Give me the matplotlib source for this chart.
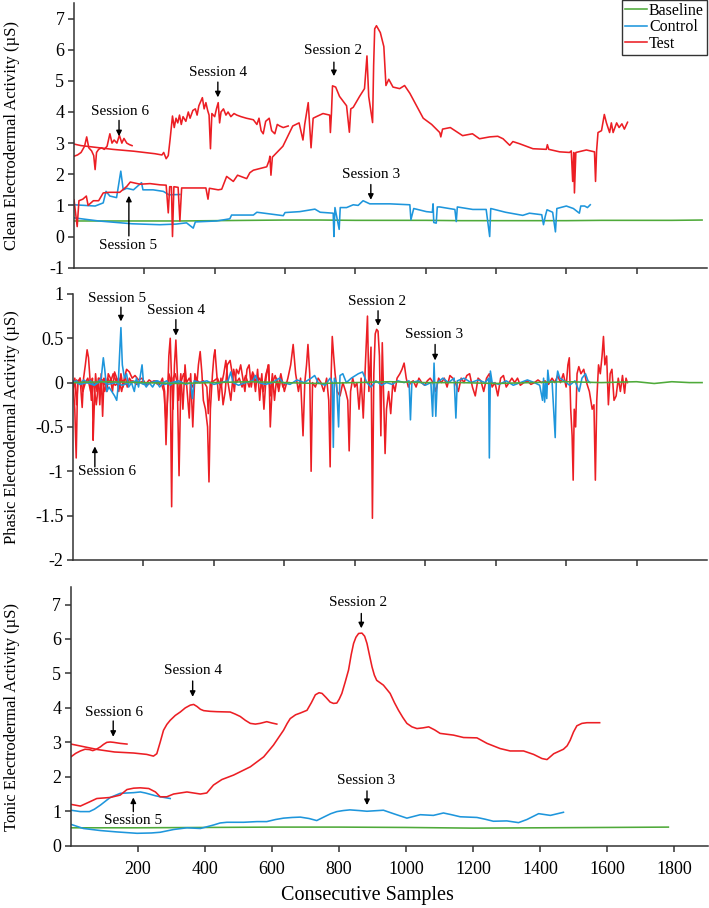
import numpy as np
import matplotlib.pyplot as plt

plt.rcParams['font.family'] = ['Liberation Serif', 'DejaVu Serif']
plt.rcParams['axes.unicode_minus'] = False

GREEN = '#4FAA3A'
BLUE = '#1E96DC'
RED = '#EC1E24'

# ---------------- clean EDA ----------------
base_clean_x = [0, 100, 200, 300, 400, 500, 600, 700, 800, 900, 1000, 1100, 1200, 1300, 1400, 1500, 1600, 1700, 1786]
base_clean_y = [0.5, 0.5, 0.5, 0.5, 0.51, 0.52, 0.53, 0.53, 0.52, 0.52, 0.52, 0.51, 0.51, 0.51, 0.51, 0.52, 0.52, 0.52, 0.53]

ctrl5_clean_x = [0, 30, 60, 83, 91, 102, 121, 133, 140, 150, 169, 192, 196, 225, 254, 270, 301]
ctrl5_clean_y = [1.02, 1.0, 0.98, 1.08, 1.45, 1.3, 1.25, 2.1, 1.5, 1.55, 1.5, 1.73, 1.5, 1.5, 1.45, 1.34, 1.35]

ctrl3_clean_x = [0, 70, 165, 244, 290, 320, 339, 345, 406, 443, 448, 510, 520, 595, 600, 642, 685, 700, 737, 739, 742,
                 754, 757, 775, 794, 808, 822, 841, 898, 955, 958, 966, 1002, 1019, 1021, 1023, 1030, 1033, 1040, 1083,
                 1087, 1090, 1134, 1172, 1182, 1185, 1227, 1276, 1295, 1330, 1335, 1340, 1345, 1361, 1369, 1373, 1400,
                 1420, 1437, 1441, 1452, 1460, 1468]
ctrl3_clean_y = [0.6, 0.5, 0.41, 0.38, 0.4, 0.44, 0.27, 0.47, 0.5, 0.57, 0.69, 0.69, 0.78, 0.67, 0.77, 0.8, 0.88, 0.78, 0.75,
                 0.0, 0.93, 0.23, 0.93, 0.93, 1.02, 1.0, 1.15, 1.05, 1.05, 1.02, 0.54, 0.9, 0.8, 0.78, 1.05, 0.45, 0.43,
                 0.95, 0.95, 0.87, 0.48, 0.95, 0.87, 0.87, 0.0, 0.9, 0.78, 0.68, 0.75, 0.7, 0.38, 0.65, 0.86, 0.78, 0.15,
                 0.9, 0.98, 0.9, 0.75, 0.98, 0.98, 0.93, 1.02]

test6_clean_x = [0, 10, 20, 30, 36, 42, 50, 56, 60, 64, 70, 78, 86, 94, 102, 108, 114, 122, 129, 136, 142, 150, 158, 165]
test6_clean_y = [2.58, 2.62, 2.7, 2.9, 3.2, 2.85, 2.75, 2.6, 2.15, 2.7, 2.8, 2.85, 2.8, 2.9, 3.3, 3.0, 3.1, 3.0, 3.25, 3.0,
                 3.15, 3.0, 2.95, 2.92]

test4_clean_x = [0, 20, 50, 80, 110, 140, 170, 200, 230, 250, 255, 262, 268, 273, 280, 285, 290, 295, 300, 305, 310, 318,
                 325, 330, 338, 345, 350, 355, 365, 370, 375, 380, 384, 388, 392, 400, 405, 410, 414, 418, 425, 432,
                 438, 446, 455, 463, 475, 490, 510, 520, 526, 532, 538, 545, 555, 562, 571, 578, 585, 595, 609]
test4_clean_y = [2.97, 2.92, 2.88, 2.84, 2.8, 2.77, 2.74, 2.7, 2.66, 2.62, 2.7, 2.5, 2.6, 3.1, 3.87, 3.5, 3.8, 3.65, 3.9,
                 3.6, 3.85, 3.7, 4.0, 3.8, 4.05, 4.1, 3.9, 4.2, 4.46, 4.1, 4.3, 4.05, 3.9, 2.82, 3.95, 3.85, 4.1, 4.3,
                 3.65, 4.0, 4.1, 3.9, 4.0, 3.85, 3.95, 3.9, 3.85, 3.8, 3.75, 3.6, 3.8, 3.4, 3.3, 3.7, 3.8, 3.4, 3.3,
                 3.6, 3.55, 3.5, 3.55]

test2_clean_x = [0, 9, 14, 25, 35, 40, 55, 70, 83, 100, 130, 150, 160, 188, 216, 245, 262, 268, 272, 277, 280, 284, 296,
                 301, 306, 340, 375, 381, 385, 410, 420, 434, 453, 465, 491, 500, 510, 548, 555, 557, 560, 564, 594,
                 622, 640, 651, 656, 666, 674, 680, 689, 708, 727, 729, 732, 735, 744, 755, 775, 783, 787, 794, 812,
                 826, 833, 838, 849, 852, 855, 860, 871, 881, 887, 895, 907, 926, 940, 955, 974, 993, 1017, 1040, 1043,
                 1048, 1070, 1105, 1133, 1153, 1182, 1205, 1220, 1239, 1248, 1267, 1305, 1343, 1346, 1350, 1381, 1409,
                 1414, 1418, 1421, 1423, 1427, 1457, 1480, 1483, 1486, 1490, 1500, 1508, 1514, 1523, 1528, 1533, 1543,
                 1550, 1558, 1565, 1574]
test2_clean_y = [1.18, 0.32, 1.15, 1.2, 1.3, 1.0, 1.15, 1.15, 1.4, 1.42, 1.42, 1.61, 1.75, 1.68, 1.7, 1.66, 1.65, 0.76, 1.6,
                 1.6, 0.0, 1.6, 1.58, 0.5, 1.56, 1.56, 1.56, 1.2, 1.55, 1.5, 1.52, 1.93, 1.77, 1.97, 1.86, 2.05, 2.13,
                 2.24, 2.45, 2.58, 1.97, 2.55, 2.9, 3.55, 3.65, 3.1, 3.6, 4.3, 2.85, 3.8, 3.85, 3.95, 3.9, 3.34, 3.95,
                 4.84, 4.8, 4.5, 4.2, 3.35, 4.1, 4.15, 4.5, 4.75, 5.8, 4.5, 3.66, 5.5, 6.67, 6.77, 6.55, 6.1, 4.85, 5.05,
                 4.8, 4.75, 4.85, 4.6, 4.2, 3.8, 3.6, 3.34, 3.2, 3.45, 3.5, 3.24, 3.3, 3.14, 3.2, 3.22, 3.14, 2.93,
                 3.05, 2.98, 2.82, 2.8, 2.95, 2.8, 2.72, 2.7, 2.75, 1.77, 2.7, 1.4, 2.7, 2.78, 2.72, 1.77, 2.75, 3.34,
                 3.4, 3.92, 3.65, 3.34, 3.65, 3.34, 3.65, 3.5, 3.62, 3.45, 3.67]

# ---------------- phasic EDA ----------------
base_phasic_x = [0, 100, 200, 300, 400, 500, 600, 700, 800, 900, 1000, 1100, 1200, 1300, 1400, 1500, 1600, 1650, 1700, 1750, 1786]
base_phasic_y = [0.0, 0.01, 0.0, -0.01, 0.0, 0.01, 0.0, -0.01, 0.0, 0.01, 0.0, 0.0, -0.01, 0.0, 0.01, 0.0, 0.01, -0.01, 0.01, 0.0, 0.0]

ctrl5_phasic_x = [0, 10, 20, 30, 40, 50, 60, 70, 80, 86, 90, 96, 102, 110, 118, 124, 128, 132, 136, 140, 146, 152, 158,
                  166, 174, 180, 186, 192, 196, 200, 208, 216, 226, 236, 246, 256, 266, 276, 286, 300]
ctrl5_phasic_y = [0.0, 0.02, -0.02, 0.03, 0.0, 0.02, -0.03, 0.0, 0.05, 0.28, 0.15, -0.1, -0.05, -0.1, -0.15, -0.2, -0.05,
                  0.3, 0.62, 0.2, 0.05, 0.1, -0.05, 0.0, -0.1, 0.05, -0.05, 0.1, 0.2, 0.0, -0.05, 0.0, -0.05, 0.02,
                  -0.05, 0.0, 0.02, -0.03, 0.0, 0.0]

ctrl3_phasic_x = [0, 20, 40, 60, 80, 100, 120, 140, 160, 180, 200, 220, 240, 260, 280, 300, 320, 334, 339, 344, 360, 380,
                  400, 420, 440, 448, 454, 470, 490, 510, 518, 526, 546, 566, 586, 596, 616, 636, 656, 676, 686, 696,
                  716, 730, 736, 739, 742, 748, 754, 758, 766, 776, 790, 810, 822, 834, 846, 860, 876, 890, 906, 922,
                  940, 954, 958, 962, 980, 1000, 1016, 1021, 1025, 1030, 1034, 1050, 1066, 1082, 1087, 1091, 1110,
                  1130, 1150, 1170, 1180, 1182, 1185, 1190, 1210, 1230, 1250, 1270, 1290, 1310, 1325, 1333, 1336,
                  1339, 1342, 1345, 1348, 1352, 1360, 1369, 1372, 1376, 1382, 1394, 1410, 1425, 1437, 1445, 1455,
                  1462, 1468]
ctrl3_phasic_y = [0.02, -0.02, 0.0, -0.03, 0.02, -0.02, 0.0, -0.03, 0.0, 0.02, -0.02, 0.0, 0.02, -0.02, 0.0, 0.02, -0.02,
                  0.0, -0.18, 0.02, 0.0, 0.02, -0.02, 0.0, 0.02, 0.12, 0.0, -0.03, 0.0, 0.02, 0.08, 0.0, -0.02, 0.0,
                  0.05, 0.0, -0.02, 0.03, 0.0, 0.05, 0.08, 0.0, -0.03, 0.05, 0.0, -0.73, 0.05, 0.0, -0.5, 0.08, 0.1,
                  0.0, 0.05, 0.1, 0.12, 0.0, -0.05, 0.02, -0.03, 0.0, -0.02, 0.02, 0.0, 0.02, -0.42, 0.0, 0.02, -0.03,
                  0.0, -0.38, 0.22, -0.38, 0.0, 0.05, 0.0, 0.05, -0.4, 0.02, 0.05, 0.0, 0.03, 0.0, 0.05, -0.85, 0.13,
                  0.0, -0.02, 0.02, -0.03, 0.0, 0.03, 0.0, -0.03, -0.2, 0.05, -0.22, 0.0, -0.18, 0.14, 0.0, 0.02,
                  -0.62, 0.0, 0.13, 0.05, 0.02, -0.03, 0.02, -0.1, 0.05, 0.1, 0.02, 0.0]

test6_phasic_x = [0, 5, 10, 14, 20, 26, 30, 35, 40, 44, 48, 52, 55, 57, 60, 64, 68, 72, 76, 80, 84, 88, 92, 96, 100, 106,
                  112, 118, 124, 130, 136, 142, 148, 154, 160, 168]
test6_phasic_y = [-0.1, 0.05, -0.25, 0.0, 0.05, -0.28, 0.05, 0.2, 0.37, 0.28, 0.05, -0.2, 0.05, -0.65, -0.3, 0.1, -0.1,
                  0.05, -0.25, 0.1, -0.38, 0.05, 0.0, -0.1, 0.1, 0.05, -0.1, 0.12, 0.05, -0.1, 0.1, -0.05, 0.08, -0.05,
                  0.05, 0.0]

test4_phasic_x = [0, 10, 20, 30, 40, 50, 60, 70, 80, 90, 100, 110, 120, 130, 140, 150, 160, 170, 180, 190, 200, 210, 220,
                  230, 240, 250, 258, 264, 268, 272, 276, 280, 284, 288, 292, 296, 300, 306, 312, 318, 324, 330, 334,
                  340, 346, 352, 356, 361, 366, 370, 376, 382, 386, 390, 396, 400, 403, 408, 414, 420, 426, 432, 438,
                  446, 452, 458, 464, 470, 476, 482, 488, 494, 500, 506, 512, 518, 524, 530, 536, 542, 548, 554, 560,
                  566, 572, 578, 584, 590, 596, 604, 613]
test4_phasic_y = [0.0, 0.03, -0.02, 0.02, 0.0, 0.03, -0.02, 0.0, 0.02, -0.02, 0.0, 0.02, -0.03, 0.0, 0.02, -0.02, 0.0,
                  0.02, -0.02, 0.0, 0.02, -0.03, 0.0, 0.02, -0.02, 0.0, -0.1, -0.45, -0.2, 0.3, 0.5, 0.0, -0.3, 0.2,
                  0.48, 0.1, -0.2, 0.1, -0.3, 0.2, -0.1, -0.4, 0.1, -0.5, 0.1, 0.0, 0.2, 0.35, 0.1, -0.2, -0.3, -0.5,
                  -1.12, -0.3, 0.1, 0.3, 0.37, 0.1, -0.2, 0.05, -0.25, -0.1, 0.2, 0.25, 0.1, -0.1, 0.15, 0.1, 0.2, 0.05,
                  -0.1, 0.15, 0.2, -0.05, 0.1, -0.1, 0.15, -0.2, 0.1, -0.3, 0.05, 0.2, -0.15, 0.1, -0.2, 0.05, -0.1,
                  0.05, -0.05, 0.0, 0.0]

test2_phasic_x = [0, 5, 9, 13, 20, 28, 35, 42, 50, 58, 66, 74, 83, 90, 98, 106, 114, 122, 130, 138, 146, 152, 160, 168,
                  176, 186, 196, 206, 216, 226, 236, 246, 254, 260, 264, 268, 272, 276, 280, 284, 290, 296, 301, 306,
                  314, 322, 330, 340, 350, 360, 370, 380, 384, 390, 400, 410, 420, 428, 434, 440, 448, 456, 464, 472,
                  480, 490, 500, 510, 520, 530, 540, 548, 556, 560, 566, 574, 582, 590, 600, 610, 618, 625, 632, 640,
                  646, 653, 658, 663, 667, 672, 676, 680, 688, 696, 704, 712, 720, 726, 730, 733, 736, 740, 744, 750,
                  758, 766, 774, 780, 784, 788, 794, 800, 806, 812, 818, 824, 830, 836, 840, 846, 850, 854, 858, 862,
                  866, 870, 874, 878, 882, 886, 890, 896, 902, 908, 914, 920, 928, 934, 940, 946, 952, 958, 966, 974,
                  982, 990, 998, 1006, 1014, 1022, 1030, 1038, 1046, 1054, 1062, 1070, 1078, 1086, 1094, 1102, 1110,
                  1118, 1126, 1134, 1142, 1150, 1158, 1166, 1174, 1182, 1190, 1198, 1206, 1214, 1222, 1230, 1238,
                  1246, 1254, 1262, 1270, 1280, 1290, 1300, 1310, 1320, 1330, 1340, 1350, 1360, 1368, 1376, 1384,
                  1392, 1400, 1405, 1409, 1413, 1417, 1420, 1423, 1427, 1431, 1436, 1442, 1450, 1458, 1466, 1474,
                  1479, 1483, 1487, 1492, 1497, 1502, 1506, 1510, 1515, 1520, 1525, 1530, 1536, 1542, 1548, 1554,
                  1560, 1566, 1570, 1574]
test2_phasic_y = [0.0, -0.3, -0.85, 0.0, 0.05, -0.1, 0.0, 0.05, -0.1, 0.0, -0.25, 0.05, 0.03, -0.1, 0.05, 0.0, 0.1, 0.02,
                  0.05, -0.1, 0.05, 0.15, 0.12, 0.05, 0.08, 0.03, 0.05, -0.02, 0.03, 0.0, 0.02, -0.02, 0.05, -0.1,
                  -0.7, -0.2, 0.1, 0.05, -1.4, 0.05, 0.1, 0.0, -1.05, 0.0, 0.1, 0.0, 0.05, -0.05, 0.03, 0.0, 0.02,
                  -0.05, -0.35, 0.0, 0.02, 0.05, -0.05, 0.1, 0.25, 0.0, -0.2, 0.15, 0.0, 0.05, -0.05, 0.08, -0.05,
                  0.12, 0.0, 0.05, -0.1, 0.1, 0.2, -0.5, 0.0, 0.08, -0.05, 0.1, -0.1, 0.05, 0.2, 0.43, 0.1, -0.1,
                  0.05, -0.6, 0.0, 0.2, 0.43, 0.1, -1.0, 0.0, -0.05, 0.05, 0.0, -0.1, 0.05, -0.2, -0.95, 0.1, 0.52,
                  0.3, 0.1, -0.1, -0.15, 0.0, -0.1, -0.2, -0.77, -0.1, 0.05, -0.05, 0.0, -0.3, 0.05, -0.4, 0.2, 0.75,
                  -0.1, 0.4, -1.53, 0.1, 0.55, 0.6, 0.58, 0.3, -0.6, 0.45, -0.2, -0.8, -0.3, -0.1, -0.35, 0.0, -0.1,
                  0.05, 0.1, 0.15, 0.22, 0.05, -0.05, 0.0, 0.02, -0.05, 0.05, 0.0, -0.03, 0.02, 0.05, 0.0, -0.1, 0.05,
                  0.0, 0.05, -0.05, 0.08, 0.05, 0.0, -0.1, 0.05, 0.0, 0.08, 0.1, -0.05, -0.15, 0.05, 0.02, -0.1, 0.05,
                  0.1, -0.05, 0.0, -0.15, 0.05, 0.08, -0.05, 0.0, 0.05, 0.0, 0.05, -0.03, 0.0, 0.02, -0.02, 0.0, 0.03,
                  0.0, 0.02, -0.02, 0.05, 0.0, 0.08, 0.0, 0.1, -0.05, 0.2, 0.28, -0.3, -0.6, -1.1, -0.3, -0.5, 0.1,
                  0.18, 0.1, 0.15, 0.0, -0.1, -0.3, -0.25, -1.1, -0.2, 0.2, 0.1, 0.3, 0.52, 0.2, 0.3, -0.25, 0.1, 0.15,
                  -0.2, -0.15, 0.05, -0.1, 0.08, -0.12, 0.05, 0.0]

# ---------------- tonic EDA ----------------
base_tonic_x = [0, 200, 400, 600, 800, 1000, 1200, 1400, 1600, 1782]
base_tonic_y = [0.52, 0.52, 0.53, 0.54, 0.54, 0.53, 0.51, 0.52, 0.53, 0.54]

ctrl5_tonic_x = [0, 28, 55, 70, 88, 117, 147, 167, 187, 207, 222, 237, 252, 266, 296]
ctrl5_tonic_y = [1.03, 0.99, 0.99, 1.06, 1.18, 1.4, 1.52, 1.53, 1.54, 1.56, 1.53, 1.49, 1.45, 1.42, 1.37]

ctrl3_tonic_x = [0, 37, 88, 137, 197, 240, 266, 286, 306, 346, 386, 425, 445, 465, 515, 555, 584, 610, 634, 660, 684,
                 710, 733, 758, 775, 793, 812, 832, 860, 883, 932, 962, 1002, 1022, 1042, 1081, 1111, 1135, 1161, 1211,
                 1235, 1260, 1300, 1335, 1360, 1395, 1430, 1469]
ctrl3_tonic_y = [0.62, 0.5, 0.44, 0.4, 0.36, 0.37, 0.39, 0.43, 0.47, 0.52, 0.5, 0.6, 0.66, 0.68, 0.68, 0.7, 0.7, 0.76,
                 0.8, 0.82, 0.83, 0.79, 0.73, 0.85, 0.93, 0.99, 1.02, 1.04, 1.02, 1.0, 1.03, 0.93, 0.8, 0.85, 0.9,
                 0.88, 0.95, 0.9, 0.84, 0.82, 0.77, 0.71, 0.72, 0.67, 0.76, 0.93, 0.88, 0.97]

test6_tonic_x = [0, 14, 28, 42, 55, 65, 76, 88, 97, 107, 117, 127, 147, 167]
test6_tonic_y = [2.58, 2.68, 2.75, 2.8, 2.79, 2.76, 2.8, 2.87, 2.94, 3.0, 3.01, 3.0, 2.97, 2.95]

test4_tonic_x = [0, 40, 80, 130, 187, 226, 246, 256, 266, 276, 286, 296, 311, 326, 341, 356, 366, 376, 386, 396, 415,
                 435, 475, 490, 505, 520, 535, 550, 564, 584, 600, 614]
test4_tonic_y = [2.95, 2.87, 2.79, 2.72, 2.69, 2.65, 2.6, 2.67, 3.0, 3.35, 3.52, 3.64, 3.78, 3.88, 4.0, 4.08, 4.1, 4.04,
                 3.96, 3.92, 3.9, 3.89, 3.88, 3.82, 3.75, 3.64, 3.55, 3.53, 3.55, 3.6, 3.56, 3.53]

test2_tonic_x = [0, 28, 55, 77, 117, 147, 167, 187, 207, 232, 252, 266, 286, 306, 346, 386, 405, 425, 450, 485, 535, 575,
                 604, 620, 634, 645, 654, 670, 684, 704, 717, 729, 740, 749, 761, 773, 783, 793, 800, 808, 818, 828,
                 836, 843, 850, 858, 868, 876, 883, 890, 898, 905, 912, 932, 952, 965, 977, 990, 1002, 1017, 1032,
                 1050, 1067, 1085, 1101, 1141, 1171, 1211, 1241, 1280, 1310, 1350, 1380, 1405, 1420, 1440, 1469,
                 1480, 1489, 1499, 1509, 1524, 1539, 1577]
test2_tonic_y = [1.2, 1.15, 1.27, 1.37, 1.4, 1.47, 1.63, 1.67, 1.68, 1.66, 1.56, 1.42, 1.42, 1.5, 1.56, 1.5, 1.53, 1.76,
                 1.92, 2.05, 2.29, 2.58, 2.92, 3.15, 3.35, 3.55, 3.69, 3.8, 3.85, 3.93, 4.15, 4.38, 4.44, 4.42, 4.3,
                 4.17, 4.13, 4.14, 4.25, 4.42, 4.75, 5.1, 5.55, 5.87, 6.05, 6.16, 6.17, 6.08, 5.87, 5.55, 5.19, 4.95,
                 4.8, 4.66, 4.42, 4.15, 3.93, 3.72, 3.55, 3.45, 3.4, 3.42, 3.45, 3.36, 3.26, 3.21, 3.14, 3.13, 2.97,
                 2.82, 2.75, 2.75, 2.65, 2.53, 2.5, 2.67, 2.8, 2.9, 3.06, 3.3, 3.48, 3.55, 3.57, 3.57]

# ---------------- figure ----------------
fig = plt.figure(figsize=(7.09, 9.08), dpi=100)
ax1 = fig.add_axes([0.1044, 0.7052, 0.8928, 0.2915])
ax2 = fig.add_axes([0.1030, 0.3833, 0.8942, 0.2930])
ax3 = fig.add_axes([0.1001, 0.0686, 0.8984, 0.2846])

lw = 1.15
# clean
l_base, = ax1.plot(base_clean_x, base_clean_y, color=GREEN, lw=lw, label='Baseline')
l_ctrl, = ax1.plot(ctrl3_clean_x, ctrl3_clean_y, color=BLUE, lw=lw, label='Control')
ax1.plot(ctrl5_clean_x, ctrl5_clean_y, color=BLUE, lw=lw)
l_test, = ax1.plot(test2_clean_x, test2_clean_y, color=RED, lw=lw, label='Test')
ax1.plot(test4_clean_x, test4_clean_y, color=RED, lw=lw)
ax1.plot(test6_clean_x, test6_clean_y, color=RED, lw=lw)

# phasic
ax2.plot(test2_phasic_x, test2_phasic_y, color=RED, lw=lw)
ax2.plot(test4_phasic_x, test4_phasic_y, color=RED, lw=lw)
ax2.plot(test6_phasic_x, test6_phasic_y, color=RED, lw=lw)
ax2.plot(ctrl3_phasic_x, ctrl3_phasic_y, color=BLUE, lw=lw)
ax2.plot(ctrl5_phasic_x, ctrl5_phasic_y, color=BLUE, lw=lw)
ax2.plot(base_phasic_x, base_phasic_y, color=GREEN, lw=lw)

# tonic
ax3.plot(base_tonic_x, base_tonic_y, color=GREEN, lw=lw)
ax3.plot(ctrl3_tonic_x, ctrl3_tonic_y, color=BLUE, lw=lw)
ax3.plot(ctrl5_tonic_x, ctrl5_tonic_y, color=BLUE, lw=lw)
ax3.plot(test2_tonic_x, test2_tonic_y, color=RED, lw=lw)
ax3.plot(test4_tonic_x, test4_tonic_y, color=RED, lw=lw)
ax3.plot(test6_tonic_x, test6_tonic_y, color=RED, lw=lw)

ax1.set_xlim(0, 1800)
ax1.set_ylim(-1, 7.5)
ax1.set_yticks(range(-1, 8))
ax2.set_xlim(0, 1800)
ax2.set_ylim(-2, 1)
ax2.set_yticks([-2, -1.5, -1, -0.5, 0, 0.5, 1])
ax2.set_yticklabels(['-2', '-1.5', '-1', '-0.5', '0', '0.5', '1'])
ax3.set_xlim(0, 1900)
ax3.set_ylim(0, 7.5)
ax3.set_yticks(range(0, 8))
ax3.set_xticks(range(200, 1900, 200))

for ax in (ax1, ax2):
    ax.set_xticks(range(200, 1800, 200))
    ax.set_xticklabels([])

for ax in (ax1, ax2, ax3):
    ax.spines['top'].set_visible(False)
    ax.spines['right'].set_visible(False)
    for s in ('left', 'bottom'):
        ax.spines[s].set_color('#333333')
        ax.spines[s].set_linewidth(1.1)
    ax.tick_params(direction='out', length=4, width=1.1, color='#333333', labelsize=13)
    ax.tick_params(axis='y', pad=3)
    ax.tick_params(axis='x', pad=7)

ax1.set_ylabel('Clean Electrodermal Activity (\u00b5S)', fontsize=12)
ax2.set_ylabel('Phasic Electrodermal Activity (\u00b5S)', fontsize=12)
ax3.set_ylabel('Tonic Electrodermal Activity (\u00b5S)', fontsize=12)
ax1.yaxis.set_label_coords(-0.085, 0.5)
ax2.yaxis.set_label_coords(-0.083, 0.5)
ax3.yaxis.set_label_coords(-0.08, 0.5)
ax3.set_xlabel('Consecutive Samples', fontsize=14.5)
ax3.xaxis.set_label_coords(0.465, -0.155)

leg = ax1.legend(handles=[l_base, l_ctrl, l_test], loc='upper right', bbox_to_anchor=(1.0, 1.012),
                 borderaxespad=0, fontsize=11.5, frameon=True, fancybox=False, handlelength=1.4,
                 handletextpad=0.1, labelspacing=0.02, borderpad=0.2)
leg.get_frame().set_edgecolor('black')
leg.get_frame().set_linewidth(1.0)


def session(ax, label, tx, ty, ax_x, y0, y1):
    ax.text(tx, ty, label, ha='center', va='center', fontsize=11)
    ax.annotate('', xy=(ax_x, y1), xytext=(ax_x, y0),
                arrowprops=dict(arrowstyle='-|>', color='black', lw=1.0, mutation_scale=8,
                                shrinkA=0, shrinkB=0))


session(ax1, 'Session 6', 131, 4.02, 128, 3.73, 3.22)
session(ax1, 'Session 4', 409, 5.28, 409, 4.96, 4.47)
session(ax1, 'Session 2', 736, 5.99, 739, 5.6, 5.15)
session(ax1, 'Session 3', 844, 1.99, 844, 1.67, 1.18)
session(ax1, 'Session 5', 153, -0.3, 156, 0.02, 1.31)

session(ax2, 'Session 5', 125, 0.95, 136, 0.85, 0.69)
session(ax2, 'Session 4', 292, 0.81, 292, 0.71, 0.53)
session(ax2, 'Session 6', 96, -1.0, 62, -0.95, -0.72)
session(ax2, 'Session 2', 863, 0.92, 866, 0.81, 0.64)
session(ax2, 'Session 3', 1026, 0.54, 1028, 0.43, 0.25)

session(ax3, 'Session 6', 129, 3.87, 126, 3.62, 3.16)
session(ax3, 'Session 4', 363, 5.09, 363, 4.78, 4.32)
session(ax3, 'Session 5', 186, 0.74, 186, 0.99, 1.40)
session(ax3, 'Session 2', 855, 7.06, 866, 6.74, 6.31)
session(ax3, 'Session 3', 880, 1.90, 883, 1.59, 1.18)

fig.savefig('out.png', dpi=100)
